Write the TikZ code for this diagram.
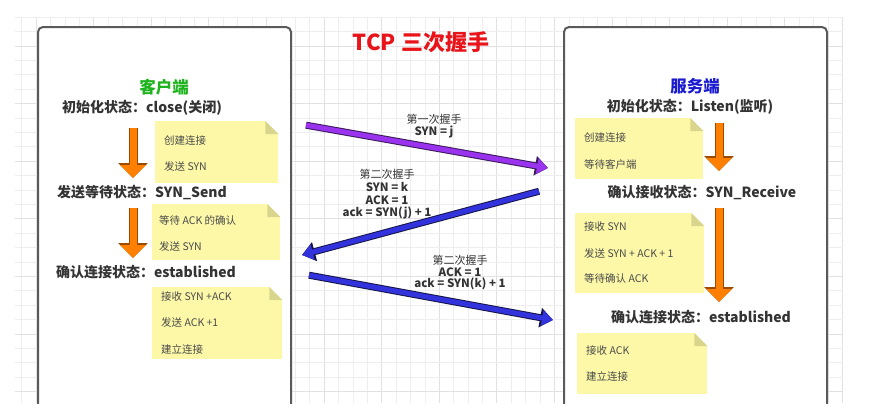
\documentclass[tikz,border=0pt]{standalone}
\usepackage{fontspec}
\setmainfont{Noto Sans CJK SC}
\usetikzlibrary{arrows.meta,calc}
\definecolor{gridminor}{HTML}{EFEDF0}
\definecolor{gridmajor}{HTML}{E3E0E5}
\definecolor{boxline}{HTML}{5A5A5A}
\definecolor{titlered}{HTML}{E8141A}
\definecolor{cgreen}{HTML}{1DB31D}
\definecolor{cblue}{HTML}{1A1AD0}
\definecolor{labelgray}{HTML}{333333}
\definecolor{notefill}{HTML}{FCF8A8}
\definecolor{notefold}{HTML}{D9D58C}
\definecolor{notetxt}{HTML}{4A4A4A}
\definecolor{orangefill}{HTML}{FF7F00}
\definecolor{orangeedge}{HTML}{9A4B00}
\definecolor{purplefill}{HTML}{9933EE}
\definecolor{purpleedge}{HTML}{3A1A5A}
\definecolor{bluefill}{HTML}{3333DD}
\definecolor{blueedge}{HTML}{15154A}
\tikzset{
  panel/.style={draw=boxline, line width=2pt, fill=white, rounded corners=5pt},
  statelabel/.style={text=labelgray, font=\fontsize{14}{16}\selectfont\bfseries, inner sep=0pt},
  sidetitle/.style={font=\fontsize{16.5}{19}\selectfont\bfseries, inner sep=0pt},
  notebox/.style={fill=notefill, draw=none, inner sep=0pt, anchor=north west},
  notetext/.style={text=notetxt, font=\fontsize{10.5}{12}\selectfont, anchor=west, inner sep=0pt},
  msglabel/.style={text=labelgray, font=\fontsize{11.5}{13}\selectfont\bfseries, inner sep=0pt},
  msghead/.style={text=labelgray, font=\fontsize{11}{13}\selectfont, inner sep=0pt},
  downarrow/.style={draw=orangefill, line width=7pt, shorten <=1pt,
    -{Triangle[length=13pt,width=25pt]},
    preaction={draw=orangeedge, line width=9pt, -{Triangle[length=15pt,width=29pt]}}},
  fatarrow/.style 2 args={draw=#1, line width=5pt, shorten <=1pt,
    -{Triangle[length=11pt,width=15pt]},
    preaction={draw=#2, line width=7pt, -{Triangle[length=13pt,width=19pt]}}},
}
\newcommand{\notefoldat}[1]{%
  \fill[white] ($(#1.north east)+(-13,0)$) -- (#1.north east) -- ($(#1.north east)+(0,13)$) -- cycle;
  \fill[notefold] ($(#1.north east)+(-13,0)$) -- ($(#1.north east)+(-13,13)$) -- ($(#1.north east)+(0,13)$) -- cycle;
}
\begin{document}
\begin{tikzpicture}[x=1pt,y=-1pt]
\useasboundingbox[fill=white] (0,0) rectangle (869,416);
% grid
\begin{scope}
\clip (15,17) rectangle (843,403);
\foreach \i in {0,...,57} {
  \pgfmathsetmacro{\xx}{21.7+14.4*\i}
  \pgfmathtruncatemacro{\mm}{mod(\i,4)}
  \ifnum\mm=1 \draw[gridmajor, line width=0.9pt] (\xx,17) -- (\xx,403);
  \else \draw[gridminor, line width=0.8pt] (\xx,17) -- (\xx,403); \fi
}
\foreach \j in {0,...,27} {
  \pgfmathsetmacro{\yy}{17.2+14.4*\j}
  \pgfmathtruncatemacro{\mm}{mod(\j,4)}
  \ifnum\mm=2 \draw[gridmajor, line width=0.9pt] (15,\yy) -- (843,\yy);
  \else \draw[gridminor, line width=0.8pt] (15,\yy) -- (843,\yy); \fi
}
\end{scope}
% panels
\begin{scope}
\clip (0,0) rectangle (869,403);
\draw[panel] (38,420) -- (38,27) -- (291,27) -- (291,420);
\draw[panel] (564,420) -- (564,27) -- (827,27) -- (827,420);
\end{scope}
% title
\node[text=titlered, font=\fontsize{22}{26}\selectfont\bfseries, inner sep=0pt] (title) at (421,42) {TCP 三次握手};
% ---------------- client ----------------
\node[sidetitle, text=cgreen] (client) at (164,87) {客户端};
\node[statelabel] (c1) at (142,108) {初始化状态：close(关闭)};
\node[statelabel] (c2) at (142,193) {发送等待状态：SYN\_Send};
\node[statelabel] (c3) at (146,272) {确认连接状态：established};
\coordinate (ca1s) at (133,127);
\coordinate (ca1e) at (133,178);
\coordinate (ca2s) at (133,207);
\coordinate (ca2e) at (133,258);
\draw[downarrow] (ca1s) -- (ca1e);
\draw[downarrow] (ca2s) -- (ca2e);
% notes client
\node[notebox, minimum width=123pt, minimum height=62pt] (cn1) at (155,121) {};
\notefoldat{cn1}
\node[notetext] at (164,141) {创建连接};
\node[notetext] at (164,166) {发送 SYN};
\node[notebox, minimum width=128pt, minimum height=56pt] (cn2) at (152,204) {};
\notefoldat{cn2}
\node[notetext] at (159,220) {等待 ACK 的确认};
\node[notetext] at (159,246) {发送 SYN};
\node[notebox, minimum width=130pt, minimum height=72pt] (cn3) at (152,287) {};
\notefoldat{cn3}
\node[notetext] at (161,297) {接收 SYN +ACK};
\node[notetext] at (161,322) {发送 ACK +1};
\node[notetext] at (161,349) {建立连接};
% ---------------- server ----------------
\node[sidetitle, text=cblue] (server) at (695,86) {服务端};
\node[statelabel] (s1) at (690,107) {初始化状态：Listen(监听)};
\node[statelabel] (s2) at (702,193) {确认接收状态：SYN\_Receive};
\node[statelabel] (s3) at (701,317) {确认连接状态：established};
\coordinate (sa1s) at (719,122);
\coordinate (sa1e) at (719,171);
\coordinate (sa2s) at (719,207);
\coordinate (sa2e) at (719,302);
\draw[downarrow] (sa1s) -- (sa1e);
\draw[downarrow] (sa2s) -- (sa2e);
\node[notebox, minimum width=128pt, minimum height=61pt] (sn1) at (575,118) {};
\notefoldat{sn1}
\node[notetext] at (584,138) {创建连接};
\node[notetext] at (584,164) {等待客户端};
\node[notebox, minimum width=129pt, minimum height=80pt] (sn2) at (575,213) {};
\notefoldat{sn2}
\node[notetext] at (584,227) {接收 SYN};
\node[notetext] at (584,253) {发送 SYN + ACK + 1};
\node[notetext] at (584,278) {等待确认 ACK};
\node[notebox, minimum width=130pt, minimum height=61pt] (sn3) at (577,333) {};
\notefoldat{sn3}
\node[notetext] at (586,351) {接收 ACK};
\node[notetext] at (586,376) {建立连接};
% ---------------- messages ----------------
\coordinate (m1s) at (305,125);
\coordinate (m1e) at (548,168);
\coordinate (m2s) at (540,191);
\coordinate (m2e) at (302,255);
\coordinate (m3s) at (308,275);
\coordinate (m3e) at (553,320);
\draw[fatarrow={purplefill}{purpleedge}] (m1s) -- (m1e);
\draw[fatarrow={bluefill}{blueedge}] (m2s) -- (m2e);
\draw[fatarrow={bluefill}{blueedge}] (m3s) -- (m3e);
\node[msghead] (l1a) at (434,119) {第一次握手};
\node[msglabel] (l1b) at (434,132) {SYN = j};
\node[msghead] (l2a) at (387,174) {第二次握手};
\node[msglabel] (l2b) at (387,187) {SYN = k};
\node[msglabel] (l2c) at (387,200) {ACK = 1};
\node[msglabel] (l2d) at (387,213) {ack = SYN(j) + 1};
\node[msghead] (l3a) at (460,260) {第二次握手};
\node[msglabel] (l3b) at (460,272) {ACK = 1};
\node[msglabel] (l3c) at (460,284) {ack = SYN(k) + 1};
\end{tikzpicture}
\end{document}
